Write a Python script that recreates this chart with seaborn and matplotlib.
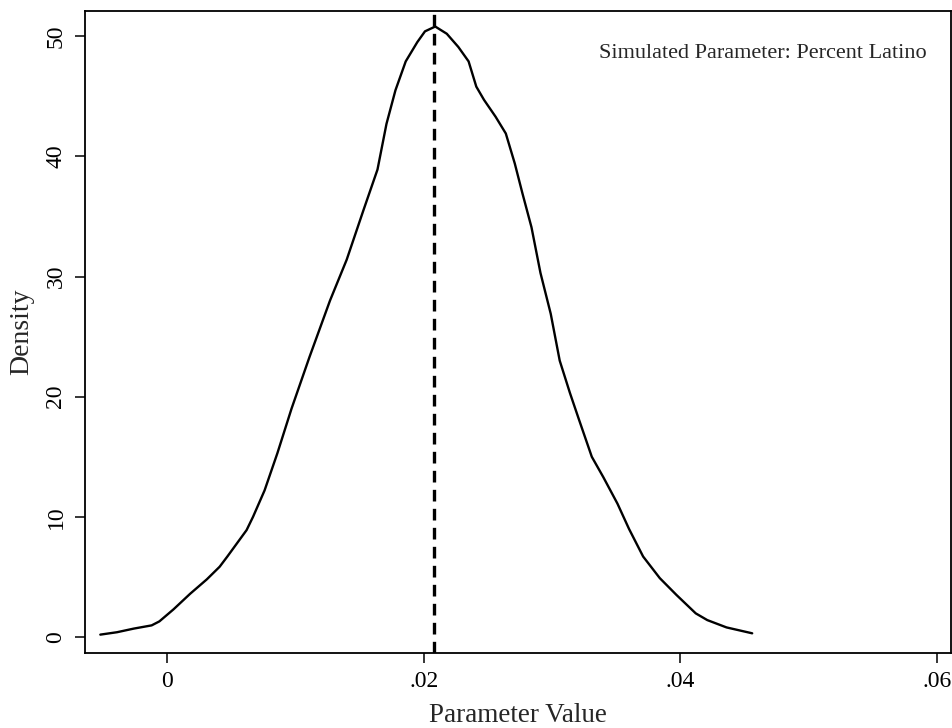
import matplotlib
matplotlib.use("Agg")
import matplotlib.pyplot as plt
import seaborn as sns
import pandas as pd

# Kernel density of the simulated parameter (percent Latino)
param_value = [-0.0052, -0.0039, -0.0026, -0.0012, -0.0006, 0.0005, 0.0018, 0.0031,
               0.0041, 0.0047, 0.0062, 0.0067, 0.0076, 0.0086, 0.0097, 0.0111,
               0.0127, 0.0140, 0.0153, 0.0164, 0.0171, 0.0178, 0.0186, 0.0195,
               0.0201, 0.0209, 0.0218, 0.0227, 0.0235, 0.0241, 0.0247, 0.0256,
               0.0264, 0.0271, 0.0277, 0.0284, 0.0291, 0.0299, 0.0306, 0.0314,
               0.0321, 0.0331, 0.0340, 0.0351, 0.0360, 0.0371, 0.0384, 0.0397,
               0.0412, 0.0421, 0.0436, 0.0456]
density = [0.2, 0.4, 0.7, 0.97, 1.3, 2.3, 3.6, 4.8,
           5.85, 6.7, 8.9, 10.0, 12.2, 15.3, 19.0, 23.3,
           28.0, 31.4, 35.5, 38.9, 42.7, 45.5, 47.9, 49.5,
           50.4, 50.8, 50.2, 49.1, 47.9, 45.8, 44.7, 43.3,
           41.9, 39.4, 36.9, 34.1, 30.3, 26.9, 23.0, 20.3,
           18.1, 15.0, 13.3, 11.1, 9.0, 6.7, 4.9, 3.5,
           1.97, 1.41, 0.8, 0.31]
point_estimate = 0.0208

x_ticks = [0, 0.02, 0.04, 0.06]
x_tick_labels = ["0", ".02", ".04", ".06"]
y_ticks = [0, 10, 20, 30, 40, 50]
y_tick_labels = ["0", "10", "20", "30", "40", "50"]

sns.set_style("ticks")
plt.rcParams["font.family"] = ["Liberation Serif", "DejaVu Serif"]

fig = plt.figure(figsize=(9.53, 7.28), dpi=100)
ax = fig.add_axes([0.0887, 0.103, 0.9093, 0.882])

df = pd.DataFrame({"Parameter Value": param_value, "Density": density})
sns.lineplot(data=df, x="Parameter Value", y="Density", ax=ax,
             color="black", linewidth=1.7, sort=False, estimator=None)
ax.axvline(point_estimate, color="black", linewidth=2.4, linestyle=(0, (3.5, 2.2)))

ax.set_xlim(-0.00643, 0.0611)
ax.set_ylim(-1.33, 52.1)
ax.set_xticks(x_ticks)
ax.set_xticklabels(x_tick_labels)
ax.set_yticks(y_ticks)
ax.set_yticklabels(y_tick_labels, rotation=90, va="center")

ax.tick_params(axis="both", direction="out", length=7, width=1.1,
               labelsize=17, colors="black", pad=6)
ax.set_xlabel("Parameter Value", fontsize=19.5, labelpad=8)
ax.set_ylabel("Density", fontsize=20, labelpad=8)

for side in ["left", "bottom", "top", "right"]:
    ax.spines[side].set_visible(True)
    ax.spines[side].set_color("black")
    ax.spines[side].set_linewidth(1.3)

ax.text(0.972, 0.927, "Simulated Parameter: Percent Latino", transform=ax.transAxes,
        ha="right", va="baseline", fontsize=16)

fig.savefig("out.png", dpi=100, facecolor="white")
